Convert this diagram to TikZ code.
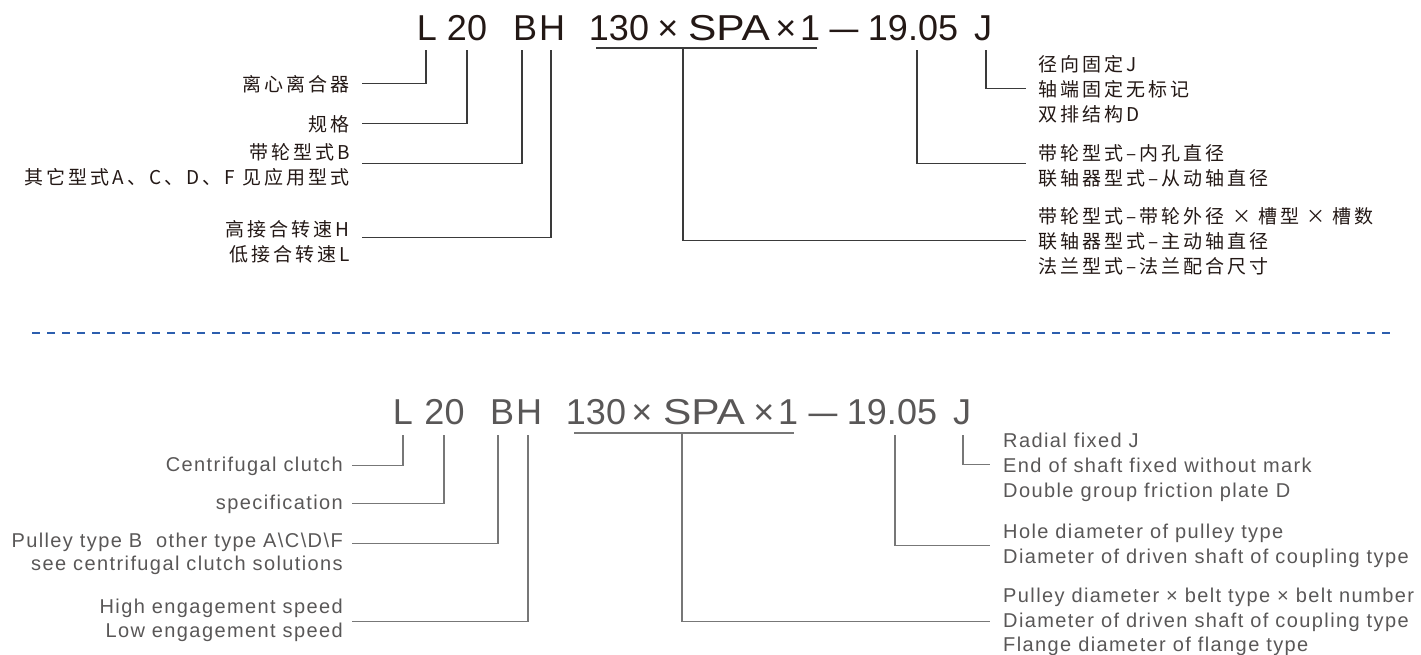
\documentclass[tikz,border=0pt]{standalone}
\usepackage{fontspec}
\usepackage{graphicx}
\setmainfont{Liberation Sans}
\newfontfamily\cjkf[LetterSpace=16]{Noto Sans CJK SC}
\newfontfamily\enf[LetterSpace=7]{Liberation Sans}
\newfontfamily\ttlf{Liberation Sans}
\newcommand{\widetxt}[1]{\scalebox{1.18}[1]{#1}}
\newcommand{\shortdash}{\scalebox{0.8}[1]{—}}
\definecolor{ink}{HTML}{231815}
\definecolor{inkline}{HTML}{3A3A3A}
\definecolor{engray}{HTML}{595757}
\definecolor{grayline}{HTML}{777777}
\definecolor{dashblue}{HTML}{2C5EAE}
\tikzset{
  ttl/.style={font=\ttlf\fontsize{36}{36}\selectfont, inner sep=0pt, anchor=base},
  cnl/.style={font=\cjkf\fontsize{19}{25}\selectfont, text=ink, inner sep=0pt, anchor=base east},
  cnr/.style={font=\cjkf\fontsize{19}{25}\selectfont, text=ink, inner sep=0pt, anchor=base west},
  enl/.style={font=\enf\fontsize{20}{25}\selectfont, text=engray, inner sep=0pt, anchor=base east},
  enr/.style={font=\enf\fontsize{20}{25}\selectfont, text=engray, inner sep=0pt, anchor=base west},
  topline/.style={draw=inkline, line width=1.1pt},
  botline/.style={draw=grayline, line width=1.1pt},
  sepline/.style={draw=dashblue, line width=2pt, dash pattern=on 8pt off 7pt}
}
\begin{document}
\begin{tikzpicture}[x=1pt,y=-1pt]
\useasboundingbox (0,0) rectangle (1421,654);

% ---------------- top (Chinese) ----------------
\node[ttl,text=ink] (tL) at (427,40) {L};
\node[ttl,text=ink] (t20) at (467,40) {20};
\node[ttl,text=ink] (tB) at (525,40) {B};
\node[ttl,text=ink] (tH) at (552,40) {H};
\node[ttl,text=ink] (t130) at (619,40) {130};
\node[ttl,text=ink] (tx1) at (668,40) {×};
\node[ttl,text=ink] (tSPA) at (729,40) {\widetxt{SPA}};
\node[ttl,text=ink] (tx2) at (786,40) {×};
\node[ttl,text=ink] (tone) at (810,40) {1};
\node[ttl,text=ink] (tdash) at (844,40) {\shortdash};
\node[ttl,text=ink] (tnum) at (913,40) {19.05};
\node[ttl,text=ink] (tJ) at (983,40) {J};

\coordinate (tk1) at (426,50);
\coordinate (tk2) at (467,50);
\coordinate (tk3) at (522,50);
\coordinate (tk4) at (551,50);
\coordinate (tk5) at (683,48);
\coordinate (tk6) at (917,50);
\coordinate (tk7) at (986,50);
\coordinate (tu1) at (596,48);
\coordinate (tu2) at (817,48);

\node[cnl] (tl1) at (350,91) {离心离合器};
\node[cnl] (tl2) at (350,131) {规格};
\node[cnl] (tl3a) at (350,159) {带轮型式B};
\node[cnl] (tl3b) at (350,184) {其它型式A、C、D、F 见应用型式};
\node[cnl] (tl4a) at (350,236) {高接合转速H};
\node[cnl] (tl4b) at (350,261) {低接合转速L};

\node[cnr] (tr1a) at (1038,71) {径向固定J};
\node[cnr] (tr1b) at (1038,96) {轴端固定无标记};
\node[cnr] (tr1c) at (1038,121) {双排结构D};
\node[cnr] (tr2a) at (1038,160) {带轮型式–内孔直径};
\node[cnr] (tr2b) at (1038,185) {联轴器型式–从动轴直径};
\node[cnr] (tr3a) at (1038,223) {带轮型式–带轮外径 × 槽型 × 槽数};
\node[cnr] (tr3b) at (1038,248) {联轴器型式–主动轴直径};
\node[cnr] (tr3c) at (1038,273) {法兰型式–法兰配合尺寸};

\draw[topline] ([xshift=12pt]tl1.east) -| (tk1);
\draw[topline] ([xshift=12pt]tl2.east) -| (tk2);
\draw[topline] ([xshift=12pt,yshift=-12pt]tl3a.east) -| (tk3);
\draw[topline] ([xshift=12pt,yshift=-9pt]tl4a.east) -| (tk4);
\draw[topline] (tu1) -- (tu2);
\draw[topline] (tk5) |- ([xshift=-12pt]tr3b.west);
\draw[topline] (tk6) |- ([xshift=-12pt,yshift=-11pt]tr2a.west);
\draw[topline] (tk7) |- ([xshift=-12pt]tr1b.west);

% ---------------- separator ----------------
\coordinate (d1) at (32,333);
\coordinate (d2) at (1395,333);
\draw[sepline] (d1) -- (d2);

% ---------------- bottom (English) ----------------
\node[ttl,text=engray] (bL) at (403,424) {L};
\node[ttl,text=engray] (b20) at (444.5,424) {20};
\node[ttl,text=engray] (bB) at (502,424) {B};
\node[ttl,text=engray] (bH) at (529,424) {H};
\node[ttl,text=engray] (b130) at (596,424) {130};
\node[ttl,text=engray] (bx1) at (642,424) {×};
\node[ttl,text=engray] (bSPA) at (704,424) {\widetxt{SPA}};
\node[ttl,text=engray] (bx2) at (764,424) {×};
\node[ttl,text=engray] (bone) at (788,424) {1};
\node[ttl,text=engray] (bdash) at (823,424) {\shortdash};
\node[ttl,text=engray] (bnum) at (892,424) {19.05};
\node[ttl,text=engray] (bJ) at (962,424) {J};

\coordinate (bk1) at (403,435);
\coordinate (bk2) at (444,435);
\coordinate (bk3) at (498,435);
\coordinate (bk4) at (528,435);
\coordinate (bk5) at (682,433);
\coordinate (bk6) at (895,435);
\coordinate (bk7) at (963,435);
\coordinate (bu1) at (574,433);
\coordinate (bu2) at (794,433);

\node[enl] (bl1) at (343,471) {Centrifugal clutch};
\node[enl] (bl2) at (343,509) {specification};
\node[enl] (bl3a) at (343,547) {Pulley type B~ other type A\textbackslash C\textbackslash D\textbackslash F};
\node[enl] (bl3b) at (343,570) {see centrifugal clutch solutions};
\node[enl] (bl4a) at (343,613) {High engagement speed};
\node[enl] (bl4b) at (343,637) {Low engagement speed};

\node[enr] (br1a) at (1003,447) {Radial fixed J};
\node[enr] (br1b) at (1003,472) {End of shaft fixed without mark};
\node[enr] (br1c) at (1003,497) {Double group friction plate D};
\node[enr] (br2a) at (1003,538) {Hole diameter of pulley type};
\node[enr] (br2b) at (1003,563) {Diameter of driven shaft of coupling type};
\node[enr] (br3a) at (1003,602) {Pulley diameter × belt type × belt number};
\node[enr] (br3b) at (1003,627) {Diameter of driven shaft of coupling type};
\node[enr] (br3c) at (1003,651) {Flange diameter of flange type};

\draw[botline] ([xshift=9pt]bl1.east) -| (bk1);
\draw[botline] ([xshift=9pt]bl2.east) -| (bk2);
\draw[botline] ([xshift=9pt,yshift=-2pt]bl3a.east) -| (bk3);
\draw[botline] ([xshift=9pt,yshift=-14pt]bl4a.east) -| (bk4);
\draw[botline] (bu1) -- (bu2);
\draw[botline] (bk5) |- ([xshift=-13pt]br3b.west);
\draw[botline] (bk6) |- ([xshift=-13pt,yshift=-13pt]br2a.west);
\draw[botline] (bk7) |- ([xshift=-13pt]br1b.west);
\end{tikzpicture}
\end{document}
